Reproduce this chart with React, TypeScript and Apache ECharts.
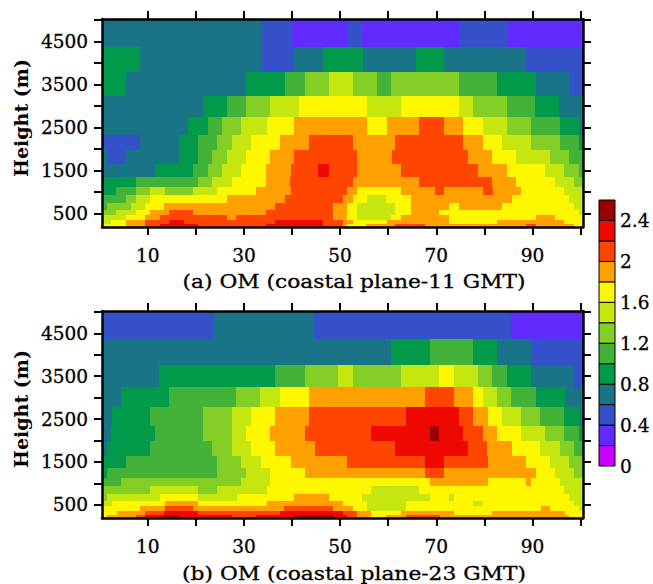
import React, { useEffect, useRef } from "react";
import * as echarts from "echarts";

// Level mid-values (mixing ratio bins of 0.2)
const P = 0.3, B = 0.5, T = 0.7, G = 0.9, g = 1.1, L = 1.3, Y = 1.5, y = 1.7, O = 1.9, R = 2.1, E = 2.3, D = 2.5;
const X_MIN = 0.5, X_MAX = 100.5;
const Y_MIN = 190, Y_MAX = 5020;

const levelColors = ["#c800ff", "#5f2bff", "#3551c9", "#1a7488", "#009a4a", "#42b238", "#84cf26", "#c5e60f", "#fff700", "#ff9f00", "#ff4500", "#ee0800", "#990000"];
const legendLevels = [0, 0.2, 0.4, 0.6, 0.8, 1.0, 1.2, 1.4, 1.6, 1.8, 2.0, 2.2, 2.4, 2.6];
const legendLabels = [0, 0.4, 0.8, 1.2, 1.6, 2, 2.4];
const xTicks = [10, 20, 30, 40, 50, 60, 70, 80, 90, 100];
const xLabels = [10, 30, 50, 70, 90];
const yTicks = [500, 1000, 1500, 2000, 2500, 3000, 3500, 4000, 4500, 5000];
const yLabels = [500, 1500, 2500, 3500, 4500];
const titleA = "(a) OM (coastal plane-11 GMT)";
const titleB = "(b) OM (coastal plane-23 GMT)";
const yTitle = "Height (m)";

// Layer edges (m), top to bottom
const edgesA = [5020, 4360, 3778, 3234, 2752, 2325, 1976, 1650, 1354, 1121, 943, 749, 578, 461, 345, 251, 190];
const edgesB = [5020, 4360, 3764, 3236, 2771, 2329, 1981, 1647, 1368, 1112, 926, 740, 585, 461, 345, 260, 190];

// Each row: value, end x, value, end x ...
const panelA = [
  [T,33.6,B,39.7,P,51.6,B,54.5,P,74.7,B,84.7,P,100.5],
  [G,8.4,T,33.6,B,40.4,T,46.5,G,54.7,T,65.7,G,71.6,T,88.6,B,100.5],
  [G,5.5,T,30.5,G,38.6,g,42.6,L,47.6,Y,52.6,L,57.6,g,60.5,L,74.7,g,82.6,G,90.7,T,97.6,B,100.5],
  [T,21.5,G,26.5,g,30.5,L,35.5,Y,41.5,y,55.5,Y,62.6,y,74.7,Y,77.6,L,84.7,g,90.5,G,95.5,T,100.5],
  [T,18.4,G,22.6,g,25.5,L,29.5,Y,34.7,y,40.5,O,55.5,y,59.7,O,66.5,R,71.5,O,75.5,y,79.7,Y,84.7,L,89.7,g,95.7,G,99.7,T,100.5],
  [B,8.4,T,16.5,G,20.5,g,24.5,L,27.6,Y,31.5,y,37.6,O,43.6,R,52.6,O,61.5,R,75.5,O,79.7,y,83.6,Y,89.7,L,95.7,g,99.7,G,100.5],
  [T,1.5,B,5.5,T,16.5,G,20.5,g,23.4,L,26.5,Y,30.5,y,35.5,O,40.5,R,53.6,O,60.7,R,76.5,O,81.5,y,86.5,Y,93.6,L,97.6,g,100.5],
  [T,11.5,G,19.5,g,22.6,L,25.5,Y,29.5,y,34.5,O,39.7,R,45.5,E,47.6,R,53.6,O,62.6,R,78.6,O,84.7,y,92.6,Y,96.5,L,99.7,g,100.5],
  [G,7.6,g,20.5,L,23.4,Y,27.6,y,34.5,O,39.5,R,52.6,O,66.5,R,81.5,O,86.5,y,94.7,Y,98.6,L,100.5],
  [G,3.4,g,7.6,L,10.5,Y,13.6,L,19.5,Y,24.5,y,32.6,O,39.7,R,51.5,O,53.6,y,62.6,O,69.7,R,71.6,O,79.7,R,81.7,O,87.6,y,96.5,Y,100.5],
  [g,5.5,L,7.6,Y,10.5,y,26.5,O,38.6,R,50.5,O,52.6,y,55.5,Y,59.5,y,64.7,O,85.7,y,97.6,Y,100.5],
  [g,1.5,L,6.5,Y,9.5,y,13.4,O,36.5,R,48.6,O,51.5,y,53.6,Y,61.5,y,64.7,O,72.6,y,74.7,O,83.6,y,98.6,Y,100.5],
  [L,3.4,Y,7.6,y,10.5,O,14.5,R,19.5,O,34.5,R,48.6,O,51.5,y,53.6,Y,61.5,y,64.7,O,70.5,y,99.7,Y,100.5],
  [Y,5.5,y,9.5,O,12.6,R,26.5,O,28.4,R,48.6,O,51.5,y,53.6,Y,60.5,y,62.6,O,72.6,y,90.7,O,94.7,y,100.5],
  [Y,2.4,y,5.5,O,9.5,R,14.5,E,17.6,R,36.5,E,46.5,R,50.5,O,52.6,y,59.7,O,72.6,y,82.6,O,96.5,y,100.5],
  [y,5.5,O,9.5,R,12.6,E,20.5,R,34.5,E,46.5,R,50.5,O,51.5,y,55.3,O,61.5,R,67.6,O,88.6,R,90.7,O,98.6,y,100.5],
];

const panelB = [
  [B,23.6,T,44.5,B,85.5,P,100.5],
  [T,60.5,G,68.6,g,77.6,G,82.6,T,89.7,B,100.5],
  [T,12.4,G,36.5,g,42.6,L,49.5,Y,52.6,L,62.6,Y,70.5,y,73.6,Y,78.6,L,81.5,g,84.7,G,89.7,T,98.6,B,100.5],
  [T,4.5,G,14.5,g,28.4,L,33.4,Y,37.6,y,43.6,O,67.6,R,73.6,O,77.6,y,79.7,Y,82.6,L,85.5,g,90.7,G,96.7,T,100.5],
  [T,2.6,G,10.5,g,21.5,L,27.6,Y,31.5,y,36.5,O,43.6,R,63.6,E,74.7,R,77.6,O,80.7,y,83.6,Y,87.6,L,91.5,g,96.5,G,99.7,T,100.5],
  [T,2.4,G,11.5,g,21.5,L,27.6,Y,30.5,y,35.5,O,42.6,R,56.5,E,68.6,D,70.5,E,75.5,R,79.7,O,82.6,y,87.6,Y,92.6,L,96.5,g,99.7,G,100.5],
  [T,1.5,G,10.5,g,23.4,L,27.6,Y,31.5,y,36.5,O,44.7,R,61.5,E,76.5,R,80.5,O,85.7,y,91.5,Y,95.7,L,98.6,g,100.5],
  [G,5.5,g,24.5,L,29.5,Y,33.6,y,39.7,O,51.5,R,67.6,E,71.6,R,80.7,O,88.6,y,93.6,Y,97.6,L,100.5],
  [G,1.5,g,24.5,L,30.5,Y,35.5,y,42.6,O,67.6,R,71.6,O,90.7,y,94.7,Y,98.6,L,100.5],
  [g,4.5,L,29.5,Y,35.5,y,68.6,O,80.7,y,88.6,O,89.7,y,95.7,Y,100.5],
  [L,10.5,Y,20.5,L,24.5,Y,34.7,y,56.5,Y,66.5,y,96.5,Y,100.5],
  [L,1.5,Y,12.6,y,20.5,Y,28.6,y,40.5,O,47.6,y,54.5,Y,68.6,y,72.6,Y,73.6,y,97.6,Y,100.5],
  [Y,2.6,y,13.6,O,20.5,y,34.7,O,50.5,y,55.5,Y,63.6,y,77.6,Y,79.7,y,98.6,Y,100.5],
  [y,8.4,O,13.6,R,19.5,O,38.4,R,48.6,O,52.6,y,55.5,Y,63.6,y,91.7,O,93.6,y,99.7,Y,100.5],
  [y,3.6,O,9.5,R,13.4,E,20.5,R,37.6,E,50.5,R,53.6,O,56.5,y,62.6,O,73.6,y,81.5,O,96.7,y,100.5],
  [y,1.5,O,7.6,R,9.5,E,13.4,D,16.5,E,27.5,R,32.6,E,40.5,D,48.6,E,51.5,R,53.6,O,56.5,y,59.5,O,63.6,R,70.7,O,97.6,y,100.5],
];

const FONT = "DejaVu Serif";
const FSIZE = 18.5;

function toCells(rows: number[][], edges: number[]) {
  const cells: number[][] = [];
  rows.forEach((row, r) => {
    let start = X_MIN;
    for (let i = 0; i < row.length; i += 2) {
      cells.push([start, row[i + 1], edges[r + 1], edges[r], row[i]]);
      start = row[i + 1];
    }
  });
  return cells;
}

function colorOf(v: number) {
  return levelColors[Math.min(levelColors.length - 1, Math.floor(v / 0.2 + 1e-6))];
}

const renderCell = (_: any, api: any) => {
  const a = api.coord([api.value(0), api.value(3)]);
  const b = api.coord([api.value(1), api.value(2)]);
  const x0 = Math.round(a[0]), y0 = Math.round(a[1]);
  const x1 = Math.round(b[0]), y1 = Math.round(b[1]);
  return {
    type: "rect",
    shape: { x: x0, y: y0, width: x1 - x0, height: y1 - y0 },
    style: { fill: colorOf(api.value(4)) },
  };
};

const renderLegend = (_: any, api: any) => {
  const a = api.coord([0, api.value(1)]);
  const b = api.coord([1, api.value(0)]);
  return {
    type: "rect",
    shape: { x: a[0], y: a[1], width: b[0] - a[0], height: b[1] - a[1] },
    style: { fill: colorOf((api.value(0) + api.value(1)) / 2), stroke: "#000", lineWidth: 1 },
  };
};

export default function App() {
  const ref = useRef<HTMLDivElement>(null);
  useEffect(() => {
    const chart = echarts.init(ref.current!, null, { renderer: "svg" });
    const line = { show: true, onZero: false, lineStyle: { color: "#000", width: 2.5 } };
    const tick = { show: true, inside: false, length: 8, lineStyle: { color: "#000", width: 2 }, customValues: [] as number[] };
    const labelStyle = { color: "#000", fontFamily: FONT, fontSize: FSIZE, textBorderColor: "#000", textBorderWidth: 0.3 };
    const grids = [
      { left: 102, top: 19, width: 481, height: 208 },
      { left: 102, top: 311, width: 481, height: 207 },
      { left: 599, top: 200, width: 16, height: 266 },
    ];
    const xAxes: any[] = [];
    const yAxes: any[] = [];
    [0, 1].forEach((gi) => {
      xAxes.push({
        type: "value", gridIndex: gi, position: "bottom", min: X_MIN, max: X_MAX, z: 5,
        splitLine: { show: false }, axisLine: line,
        axisTick: { ...tick, customValues: xTicks },
        axisLabel: { customValues: xLabels, margin: 19, ...labelStyle, formatter: (v: number) => String(v) },
      });
      xAxes.push({
        type: "value", gridIndex: gi, position: "top", min: X_MIN, max: X_MAX, z: 5,
        splitLine: { show: false }, axisLine: line,
        axisTick: { ...tick, customValues: xTicks },
        axisLabel: { show: false },
      });
      yAxes.push({
        type: "value", gridIndex: gi, position: "left", min: Y_MIN, max: Y_MAX, z: 5,
        splitLine: { show: false }, axisLine: line,
        axisTick: { ...tick, customValues: yTicks },
        axisLabel: { customValues: yLabels, margin: 14, ...labelStyle, formatter: (v: number) => String(v) },
      });
      yAxes.push({
        type: "value", gridIndex: gi, position: "right", min: Y_MIN, max: Y_MAX, z: 5,
        splitLine: { show: false }, axisLine: line,
        axisTick: { ...tick, customValues: yTicks },
        axisLabel: { show: false },
      });
    });
    xAxes.push({ type: "value", gridIndex: 2, min: 0, max: 1, show: false });
    yAxes.push({
      type: "value", gridIndex: 2, position: "right", min: 0, max: 2.6,
      splitLine: { show: false }, axisLine: { show: false }, axisTick: { show: false },
      axisLabel: { customValues: legendLabels, margin: 5, ...labelStyle, formatter: (v: number) => String(v) },
    });
    const legendCells = legendLevels.slice(0, -1).map((v, i) => [v, legendLevels[i + 1]]);
    const titleText = (text: string, yPos: number) => ({
      type: "text", x: 354, y: yPos, scaleX: 1.21,
      style: { text, fill: "#000", stroke: "#000", lineWidth: 0.3, font: `18px "${FONT}"`, textAlign: "center", textVerticalAlign: "middle" },
    });
    const heightText = (yPos: number) => ({
      type: "text", x: 21, y: yPos, rotation: Math.PI / 2,
      style: { text: yTitle, fill: "#000", font: `bold 19px "${FONT}"`, textAlign: "center", textVerticalAlign: "middle" },
    });
    chart.setOption({
      animation: false,
      backgroundColor: "#fff",
      grid: grids,
      xAxis: xAxes,
      yAxis: yAxes,
      graphic: [titleText(titleA, 282), titleText(titleB, 574), heightText(118), heightText(409)],
      series: [
        { type: "custom", xAxisIndex: 0, yAxisIndex: 0, clip: true, renderItem: renderCell, encode: { x: [0, 1], y: [2, 3] }, data: toCells(panelA, edgesA) },
        { type: "custom", xAxisIndex: 2, yAxisIndex: 2, clip: true, renderItem: renderCell, encode: { x: [0, 1], y: [2, 3] }, data: toCells(panelB, edgesB) },
        { type: "custom", xAxisIndex: 4, yAxisIndex: 4, renderItem: renderLegend, encode: { y: [0, 1] }, data: legendCells },
      ],
    });
    return () => chart.dispose();
  }, []);
  return <div ref={ref} style={{ position: "absolute", left: 0, top: 0, width: 653, height: 584 }} />;
}
